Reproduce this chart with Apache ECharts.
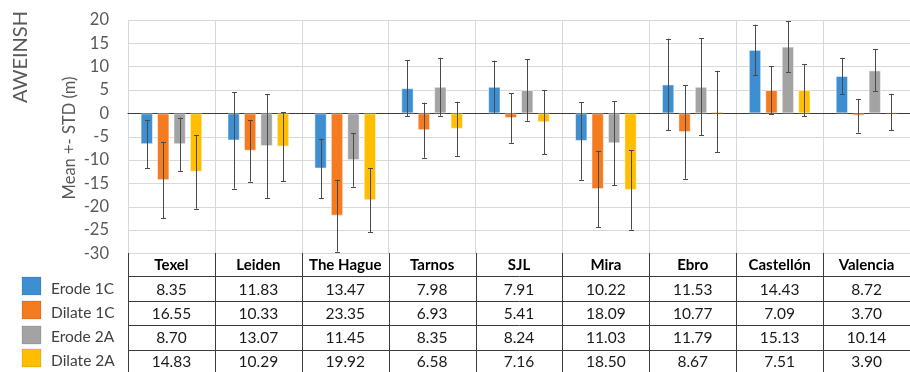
<!DOCTYPE html>
<html>
<head>
<meta charset="utf-8">
<script src="https://cdn.jsdelivr.net/npm/echarts@6/dist/echarts.min.js"></script>
<style>html,body{margin:0;padding:0;background:#fff;}#c{width:910px;height:372px;}</style>
</head>
<body>
<div id="c"></div>
<script>
var categories = ['Texel','Leiden','The Hague','Tarnos','SJL','Mira','Ebro','Castellón','Valencia'];
var seriesNames = ['Erode 1C','Dilate 1C','Erode 2A','Dilate 2A'];
var erode1CMean  = [-6.6,-5.8,-11.8,5.4,5.7,-5.9,6.2,13.6,8.0];
var erode1CStd   = [5.1,10.3,6.4,6.0,5.6,8.3,9.8,5.4,3.9];
var dilate1CMean = [-14.3,-8.0,-21.9,-3.6,-1.0,-16.2,-4.0,5.0,-0.5];
var dilate1CStd  = [8.2,6.6,7.7,5.9,5.3,8.2,10.0,5.1,3.6];
var erode2AMean  = [-6.6,-7.0,-10.0,5.7,5.0,-6.4,5.7,14.3,9.2];
var erode2AStd   = [5.7,11.1,5.7,6.2,6.6,9.0,10.4,5.4,4.5];
var dilate2AMean = [-12.5,-7.1,-18.6,-3.3,-1.9,-16.4,0.4,5.0,0.3];
var dilate2AStd  = [7.9,7.4,6.9,5.8,6.9,8.5,8.7,5.6,3.9];
var tableErode1C  = ['8.35','11.83','13.47','7.98','7.91','10.22','11.53','14.43','8.72'];
var tableDilate1C = ['16.55','10.33','23.35','6.93','5.41','18.09','10.77','7.09','3.70'];
var tableErode2A  = ['8.70','13.07','11.45','8.35','8.24','11.03','11.79','15.13','10.14'];
var tableDilate2A = ['14.83','10.29','19.92','6.58','7.16','18.50','8.67','7.51','3.90'];
var yTicks = {min:-30, max:20, interval:5};

var means = [erode1CMean, dilate1CMean, erode2AMean, dilate2AMean];
var stds = [erode1CStd, dilate1CStd, erode2AStd, dilate2AStd];
var tableRows = [tableErode1C, tableDilate1C, tableErode2A, tableDilate2A];
var colors = ['#3e8ed2','#f47b20','#a3a3a3','#ffbf00'];
var FONT = 'Lato, "Open Sans", sans-serif';
var CAT_GAP = 0.29, BAR_GAP = 0.33, N = 4;

var chart = echarts.init(document.getElementById('c'), null, {renderer:'canvas'});

function errRender(k){
  return function(params, api){
    var idx = api.value(0);
    var lo = api.coord([idx, api.value(1)]);
    var hi = api.coord([idx, api.value(2)]);
    var band = api.size([1,0])[0];
    var avail = band*(1-CAT_GAP);
    var bw = avail/(N+(N-1)*BAR_GAP);
    var off = -avail/2 + k*bw*(1+BAR_GAP) + bw/2;
    var x = Math.round(lo[0]+off)+0.5;
    var st = {stroke:'#4a4a4a', lineWidth:1};
    return {type:'group', children:[
      {type:'line', shape:{x1:x,y1:hi[1],x2:x,y2:lo[1]}, style:st},
      {type:'line', shape:{x1:x-2.5,y1:Math.round(hi[1])+0.5,x2:x+2.5,y2:Math.round(hi[1])+0.5}, style:st},
      {type:'line', shape:{x1:x-2.5,y1:Math.round(lo[1])+0.5,x2:x+2.5,y2:Math.round(lo[1])+0.5}, style:st}
    ]};
  };
}

var series = [];
for (var k=0;k<N;k++){
  series.push({
    name: seriesNames[k], type:'bar', data: means[k],
    barCategoryGap: (CAT_GAP*100)+'%', barGap: (BAR_GAP*100)+'%',
    itemStyle:{color:colors[k], borderColor:'rgba(255,255,255,0.5)', borderWidth:1},
    z:2
  });
}
for (var k2=0;k2<N;k2++){
  var d = [];
  for (var i=0;i<categories.length;i++){
    d.push([i, means[k2][i]-stds[k2][i], means[k2][i]+stds[k2][i]]);
  }
  series.push({
    type:'custom', name:'err'+k2, renderItem: errRender(k2), data:d,
    encode:{x:0, y:[1,2]}, z:5, silent:true
  });
}

var option = {
  animation:false,
  textStyle:{fontFamily:FONT},
  grid:{left:128, top:20, right:-4, bottom:118.5, containLabel:false},
  xAxis:{
    type:'category', data:categories,
    axisLine:{show:true, lineStyle:{color:'#3c3c3c', width:1}},
    axisTick:{show:false},
    axisLabel:{interval:0, fontFamily:FONT, fontSize:15, fontWeight:'bold', color:'#000', margin:4},
    splitLine:{show:true, interval:0, lineStyle:{color:'#d9d9d9', width:1}}
  },
  yAxis:{
    type:'value', min:yTicks.min, max:yTicks.max, interval:yTicks.interval,
    axisLine:{show:false}, axisTick:{show:false},
    axisLabel:{fontFamily:FONT, fontSize:16.5, color:'#595959', margin:19},
    splitLine:{lineStyle:{color:'#d9d9d9', width:1}}
  },
  series: series
};
chart.setOption(option);

var rowLines = [276, 300.5, 325, 350, 374.5];
var rowCenters = [290, 314, 338, 362];
var keyCenters = [286, 310, 335, 358];
var graphics = [];
var xL = 128, xR = 914;
var band = chart.convertToPixel({xAxisIndex:0}, 1) - chart.convertToPixel({xAxisIndex:0}, 0);
rowLines.forEach(function(y){
  graphics.push({type:'line', shape:{x1:xL,y1:Math.round(y)+0.5,x2:xR,y2:Math.round(y)+0.5},
    style:{stroke:'#3c3c3c', lineWidth:1}, silent:true});
});
for (var b=0;b<=categories.length;b++){
  var bx = Math.round(chart.convertToPixel({xAxisIndex:0}, 0) - band/2 + b*band) + 0.5;
  graphics.push({type:'line', shape:{x1:bx,y1:253,x2:bx,y2:372},
    style:{stroke:'#3c3c3c', lineWidth:1}, silent:true});
}
for (var r=0;r<tableRows.length;r++){
  for (var c=0;c<categories.length;c++){
    var cx = chart.convertToPixel({xAxisIndex:0}, c);
    graphics.push({type:'text', x:cx, y:rowCenters[r],
      style:{text:tableRows[r][c], fontFamily:FONT, fontSize:15.5, fill:'#1a1a1a', align:'center', verticalAlign:'middle'}, silent:true});
  }
  graphics.push({type:'rect', shape:{x:22, y:keyCenters[r]-9, width:19, height:18},
    style:{fill:colors[r], stroke:'rgba(0,0,0,0.12)', lineWidth:1}, silent:true});
  graphics.push({type:'text', x:51, y:rowCenters[r]-1,
    style:{text:seriesNames[r], fontFamily:FONT, fontSize:15.5, fill:'#404040', align:'left', verticalAlign:'middle'}, silent:true});
}
graphics.push({type:'text', x:70, y:138, rotation:Math.PI/2,
  style:{text:'Mean +- STD (m)', fontFamily:FONT, fontSize:16.5, fill:'#595959', align:'center', verticalAlign:'middle'}});
graphics.push({type:'text', x:21, y:57, rotation:Math.PI/2,
  style:{text:'AWEINSH', fontFamily:FONT, fontSize:20, fill:'#595959', align:'center', verticalAlign:'middle'}});
chart.setOption({graphic:graphics});
</script>
</body>
</html>
